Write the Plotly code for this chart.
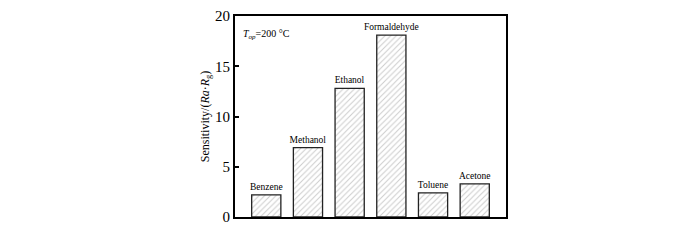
import plotly.graph_objects as go

categories = ["Benzene", "Methanol", "Ethanol", "Formaldehyde", "Toluene", "Acetone"]
sensitivity = [2.2, 6.9, 12.8, 18.1, 2.4, 3.3]
y_ticks = [0, 5, 10, 15, 20]

FONT = "Liberation Serif"

fig = go.Figure()
fig.add_trace(go.Bar(
    x=categories,
    y=sensitivity,
    width=0.7,
    marker=dict(
        color="white",
        line=dict(color="#222222", width=1.3),
        pattern=dict(shape="/", fgcolor="#999999", bgcolor="white", size=4, solidity=0.25),
    ),
    text=categories,
    textposition="outside",
    constraintext="none",
    cliponaxis=False,
    textfont=dict(family=FONT, size=9.5, color="black"),
    outsidetextfont=dict(family=FONT, size=9.5, color="black"),
))

fig.add_annotation(
    x=0, y=18.2, xref="x", yref="y", xanchor="center", yanchor="middle",
    text="<i>T<sub>op</sub></i>=200 °C", showarrow=False,
    font=dict(family=FONT, size=10, color="black"),
)

fig.update_layout(
    width=700, height=240,
    margin=dict(l=227, r=202, t=8, b=31, autoexpand=False),
    plot_bgcolor="white", paper_bgcolor="white",
    showlegend=False,
    font=dict(family=FONT, color="black"),
)
fig.update_xaxes(
    range=[-0.75, 5.75], showticklabels=False, ticks="", automargin=False,
    showline=True, linecolor="black", linewidth=2, mirror=True, showgrid=False,
)
fig.update_yaxes(
    range=[0, 20], tickvals=y_ticks, ticks="inside", ticklen=4, tickwidth=2,
    tickcolor="black", tickfont=dict(family=FONT, size=15), automargin=False,
    showline=True, linecolor="black", linewidth=2, mirror=True, showgrid=False,
    zeroline=False,
    title=dict(text="Sensitivity/(<i>Ra</i>·<i>R</i><sub>g</sub>)", font=dict(family=FONT, size=12), standoff=3),
)

fig.write_html("out.html")
